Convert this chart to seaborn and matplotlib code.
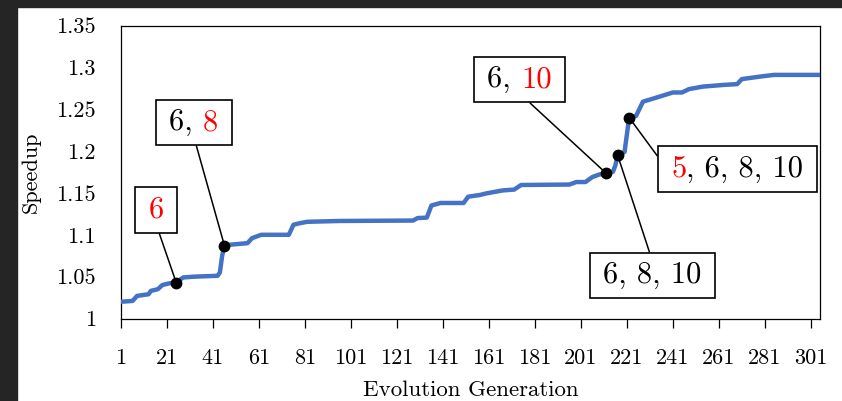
import numpy as np
import pandas as pd
import matplotlib
matplotlib.use("Agg")
import matplotlib.pyplot as plt
from matplotlib.patches import Rectangle
from matplotlib.offsetbox import AnnotationBbox, HPacker, TextArea, DrawingArea
import seaborn as sns

# ─── Data ────────────────────────────────────────────────────────────────────────
generation = [1, 6, 8, 13, 14, 17, 19, 22, 25, 28, 33, 43, 44, 45, 46, 48, 56, 58,
              62, 74, 76, 79, 82, 96, 128, 130, 134, 136, 140, 150, 152, 157, 160,
              167, 172, 175, 196, 199, 203, 206, 209, 212, 215, 216, 217, 220, 222,
              225, 228, 234, 241, 245, 248, 254, 263, 269, 271, 279, 285, 305]
speedup = [1.020, 1.021, 1.027, 1.029, 1.033, 1.035, 1.040, 1.042, 1.043, 1.049,
           1.050, 1.051, 1.055, 1.075, 1.087, 1.088, 1.090, 1.096, 1.100, 1.100,
           1.112, 1.114, 1.1155, 1.1165, 1.117, 1.120, 1.1205, 1.135, 1.138, 1.138,
           1.1455, 1.1475, 1.1495, 1.153, 1.154, 1.1595, 1.160, 1.163, 1.163, 1.169,
           1.172, 1.1735, 1.1755, 1.183, 1.195, 1.199, 1.240, 1.242, 1.259, 1.264,
           1.270, 1.270, 1.274, 1.277, 1.279, 1.280, 1.286, 1.289, 1.291, 1.291]

# marked generations and their call-out labels (black part / red part)
marked_gen = [25, 46, 212, 217, 222]
label_black = ["", "6, ", "6, ", "6, 8, 10", ", 6, 8, 10"]
label_red = ["6", "8", "10", "", "5"]
red_first = [False, False, False, False, True]
box_gen = [16.2, 32.6, 174.3, 232.2, 269.0]
box_val = [1.1296, 1.2342, 1.2855, 1.0514, 1.1786]
leader_rel = [(0.5, 0.0), (0.5, 0.0), (0.5, 0.0), (0.5, 1.0), (0.0, 0.5)]

x_ticks = list(range(1, 302, 20))
y_ticks = [1, 1.05, 1.1, 1.15, 1.2, 1.25, 1.3, 1.35]
y_ticklabels = ["1", "1.05", "1.1", "1.15", "1.2", "1.25", "1.3", "1.35"]

LINE_BLUE = "#4472C4"

# ─── Style ───────────────────────────────────────────────────────────────────────
sns.set_theme(style="white")
plt.rcParams["font.family"] = "serif"
plt.rcParams["font.serif"] = ["cmr10", "DejaVu Serif"]
plt.rcParams["mathtext.fontset"] = "cm"
plt.rcParams["axes.formatter.use_mathtext"] = True

df = pd.DataFrame({"gen": generation, "speedup": speedup})
lookup = dict(zip(generation, speedup))
marked_val = [lookup[g] for g in marked_gen]

fig = plt.figure(figsize=(8.42, 4.01), dpi=100, facecolor="white")
ax = fig.add_axes([121 / 842, 1 - 318.5 / 401, 699 / 842, 293 / 401])

sns.lineplot(data=df, x="gen", y="speedup", ax=ax, color=LINE_BLUE, lw=3.2,
             zorder=3)
ax.plot(marked_gen, marked_val, "o", color="black", ms=7.5, zorder=5)

ax.set_xlim(1, 305)
ax.set_ylim(1, 1.35)
ax.set_xticks(x_ticks)
ax.set_xticklabels([str(t) for t in x_ticks])
ax.set_yticks(y_ticks)
ax.set_yticklabels(y_ticklabels)
ax.tick_params(axis="x", direction="out", length=6.5, width=0.9, color="black",
               labelsize=16, pad=15, labelcolor="black")
ax.tick_params(axis="y", length=0, labelsize=16, pad=18, labelcolor="black")
ax.tick_params(bottom=True, left=False)
for s in ax.spines.values():
    s.set_color("black")
    s.set_linewidth(0.9)

ax.set_xlabel("Evolution Generation", fontsize=16.5, color="black", labelpad=9)
ax.set_ylabel("Speedup", fontsize=16, color="black", labelpad=11)

# ─── Call-out boxes with red/black text ─────────────────────────────────────────
for g, v, bx, by, blk, red, rf, rel in zip(marked_gen, marked_val, box_gen, box_val,
                                           label_black, label_red, red_first,
                                           leader_rel):
    parts = []
    if rf:
        parts.append(TextArea(red, textprops=dict(color="red", fontsize=22)))
        parts.append(TextArea(blk, textprops=dict(color="black", fontsize=22)))
    else:
        if blk:
            parts.append(TextArea(blk, textprops=dict(color="black", fontsize=22)))
        if red:
            parts.append(TextArea(red, textprops=dict(color="red", fontsize=22)))
    children = [DrawingArea(3, 1)] + parts + [DrawingArea(3, 1)]
    packed = HPacker(children=children, align="baseline", pad=0, sep=0)
    ab = AnnotationBbox(packed, (g, v), xybox=(bx, by), xycoords="data",
                        boxcoords="data", box_alignment=(0.5, 0.5), pad=0.48,
                        fontsize=22, frameon=True,
                        bboxprops=dict(boxstyle="square", ec="black", lw=1.2,
                                       fc="white"),
                        arrowprops=dict(arrowstyle="-", color="black", lw=1.1,
                                        relpos=rel, shrinkA=0, shrinkB=0),
                        zorder=4)
    ax.add_artist(ab)

# dark screenshot frame (top and left)
fig.patches.append(Rectangle((0, 0), 17 / 842, 1, transform=fig.transFigure,
                             color="#252525", zorder=0))
fig.patches.append(Rectangle((0, 1 - 7 / 401), 1, 7 / 401,
                             transform=fig.transFigure, color="#252525", zorder=0))

fig.savefig("out.png", dpi=100, facecolor="white")
